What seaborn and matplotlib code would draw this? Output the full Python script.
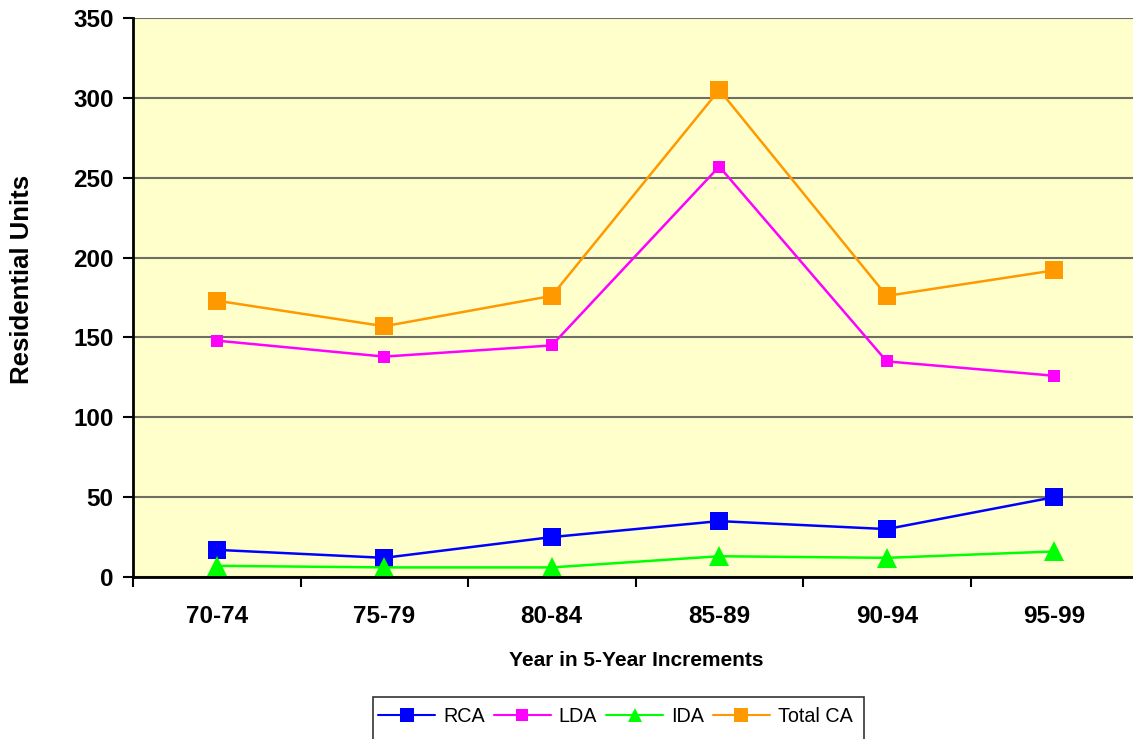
import matplotlib
matplotlib.use("Agg")
import matplotlib.pyplot as plt
import matplotlib.patches as mpatches
from matplotlib.lines import Line2D
import numpy as np
import pandas as pd
import seaborn as sns

# Residential units per five-year period
periods = ["70-74", "75-79", "80-84", "85-89", "90-94", "95-99"]
rca = [17, 12, 25, 35, 30, 50]
lda = [148, 138, 145, 257, 135, 126]
ida = [7, 6, 6, 13, 12, 16]
total_ca = [173, 157, 176, 305, 176, 192]

series_names = ["RCA", "LDA", "IDA", "Total CA"]
series_values = [rca, lda, ida, total_ca]
colors = {"RCA": "#0000FF", "LDA": "#FF00FF", "IDA": "#00FF00", "Total CA": "#FF9900"}
markers = {"RCA": "s", "LDA": "s", "IDA": "^", "Total CA": "s"}
msizes = {"RCA": 13.5, "LDA": 9.3, "IDA": 14.5, "Total CA": 13.5}

df = pd.DataFrame(
    [(name, i, v) for name, vals in zip(series_names, series_values)
     for i, v in enumerate(vals)],
    columns=["series", "pos", "units"],
)

sns.set_theme(style="white")
plt.rcParams["font.family"] = ["Liberation Sans", "DejaVu Sans"]
plt.rcParams["text.color"] = "black"
plt.rcParams["xtick.color"] = "black"
plt.rcParams["ytick.color"] = "black"
plt.rcParams["axes.labelcolor"] = "black"

fig = plt.figure(figsize=(11.33, 7.39), dpi=100)
ax = fig.add_axes([133 / 1133, 1 - 577 / 739, 1005 / 1133, (577 - 18) / 739])
ax.set_facecolor("#FFFFCC")

for name in series_names:
    sns.lineplot(
        data=df[df["series"] == name], x="pos", y="units", ax=ax,
        color=colors[name], marker=markers[name], markersize=msizes[name],
        markeredgewidth=0, linewidth=1.8, legend=False, zorder=3,
    )

ax.set_xlim(-0.5, 5.5)
ax.set_ylim(0, 350)

# category boundaries carry the tick marks, labels sit at the centres
ax.set_xticks(np.arange(-0.5, 6.0, 1.0))
ax.set_xticklabels([])
ax.set_xticks(np.arange(len(periods)), minor=True)
ax.set_xticklabels(periods, minor=True, fontsize=17.5, fontweight="bold")
ax.tick_params(axis="x", which="major", direction="out", length=7, width=1.5,
               color="black", bottom=True)
ax.tick_params(axis="x", which="minor", length=0, pad=20)

ax.set_yticks(np.arange(0, 351, 50))
ax.set_yticklabels([str(v) for v in range(0, 351, 50)], fontsize=17.5,
                   fontweight="bold")
ax.tick_params(axis="y", direction="out", length=7, width=1.5, color="black",
               left=True, pad=7)

ax.yaxis.grid(True, color="#6E6E64", linewidth=1.5, zorder=0)
ax.xaxis.grid(False)
ax.set_axisbelow(True)

for side in ["top", "right"]:
    ax.spines[side].set_visible(False)
for side in ["left", "bottom"]:
    ax.spines[side].set_color("black")
    ax.spines[side].set_linewidth(2)
    ax.spines[side].set_zorder(4)

ax.set_xlabel("")
ax.set_ylabel("")
fig.text(636 / 1133, 1 - 660 / 739, "Year in 5-Year Increments", ha="center",
         va="center", fontsize=15, fontweight="bold")
fig.text(22 / 1133, 1 - 279 / 739, "Residential Units", ha="center",
         va="center", rotation=90, fontsize=18.5, fontweight="bold")

# legend frame running off the bottom edge
fig.patches.append(mpatches.Rectangle(
    (373 / 1133, -0.05), (864 - 373) / 1133, 1 - 697 / 739 + 0.05,
    transform=fig.transFigure, facecolor="white", edgecolor="#333333",
    linewidth=1.2, zorder=1))

handles = [
    Line2D([], [], color=colors[n], marker=markers[n], linewidth=1.5,
           markersize=10 if n != "LDA" else 9, markeredgewidth=0)
    for n in series_names
]
fig.legend(handles, series_names, loc="center left",
           bbox_to_anchor=(378 / 1133, 1 - 716 / 739), ncol=4, frameon=False,
           fontsize=14.2, handlelength=2.9, handletextpad=0.4,
           columnspacing=0.45, borderpad=0, borderaxespad=0)

fig.savefig("out.png", dpi=100)
